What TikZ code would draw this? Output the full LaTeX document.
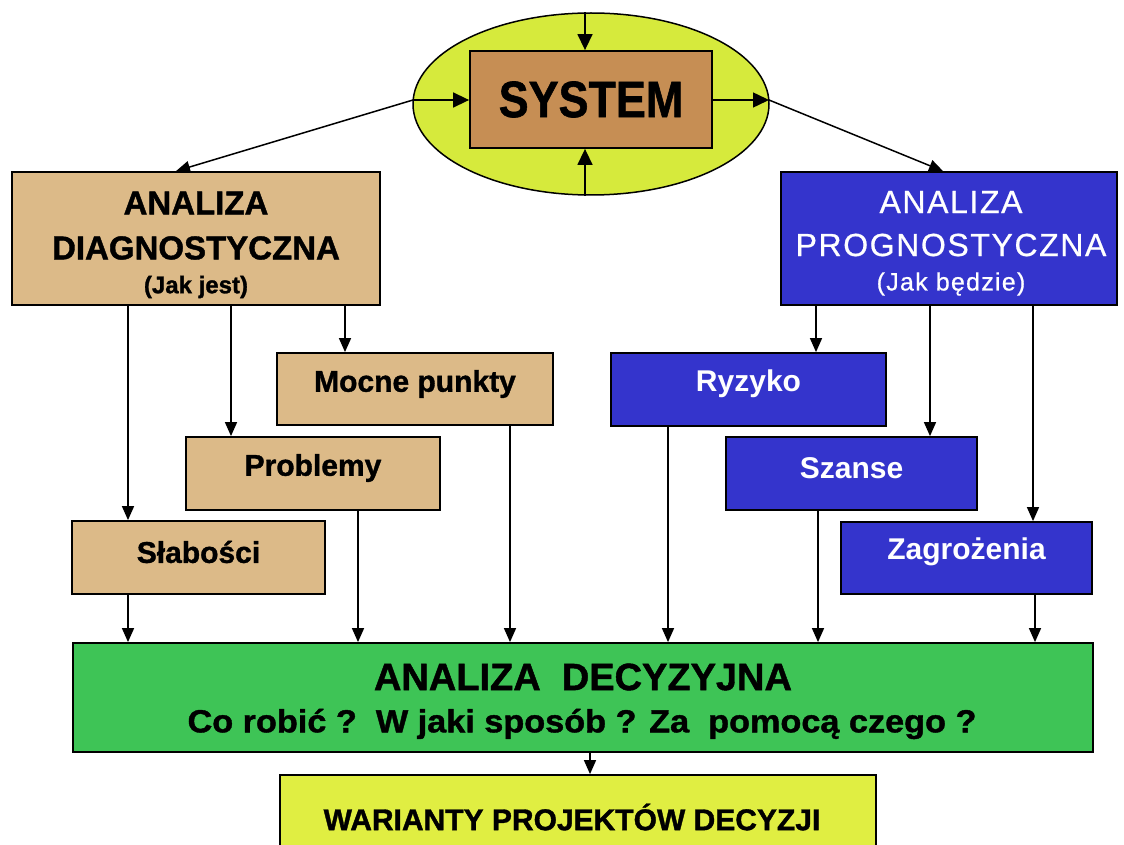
\documentclass[tikz,border=0pt]{standalone}
\usepackage{fontspec}
\usepackage{graphicx}
\setmainfont{Liberation Sans}
\newfontfamily\heavyfont{Liberation Sans Bold}[FakeBold=1.2]
\newfontfamily\spacedfont{Liberation Sans}[LetterSpace=5,FakeBold=0.6]
\usetikzlibrary{arrows.meta,shapes.geometric}
\definecolor{ellfill}{RGB}{214,234,60}
\definecolor{sysbrown}{RGB}{198,142,84}
\definecolor{tanfill}{RGB}{220,186,136}
\definecolor{bluefill}{RGB}{52,52,204}
\definecolor{greenfill}{RGB}{62,196,86}
\definecolor{yellowfill}{RGB}{224,238,66}
\begin{document}
\begin{tikzpicture}[x=1pt,y=-1pt,
  box/.style={draw=black, line width=1.8pt, rectangle, inner sep=0pt},
  tanbox/.style={box, fill=tanfill},
  bluebox/.style={box, fill=bluefill},
  arr/.style={line width=1.5pt, -{Triangle[width=12pt,length=14pt]}},
  bigarr/.style={line width=1.5pt, -{Triangle[width=15pt,length=16pt]}},
  lbl/.style={inner sep=0pt, font=\heavyfont\fontsize{30}{30}\selectfont},
  wlbl/.style={inner sep=0pt, text=white, font=\bfseries\fontsize{30}{30}\selectfont}]
\clip (0,0) rectangle (1124,845);
\fill[white] (0,0) rectangle (1124,845);

% system block
\node[ellipse, draw=black, line width=1.5pt, fill=ellfill, inner sep=0pt,
      minimum width=356, minimum height=182] (ell) at (591,104) {};
\node[box, fill=sysbrown, minimum width=242, minimum height=97] (sys) at (591,99.5)
  {\scalebox{0.88}[1]{\heavyfont\fontsize{51}{51}\selectfont SYSTEM}};

% analysis boxes
\node[tanbox, minimum width=368, minimum height=133] (diag) at (196,238.5) {};
\node[lbl, font=\heavyfont\fontsize{33}{33}\selectfont] (diagA) at (196,203) {ANALIZA};
\node[lbl, font=\heavyfont\fontsize{33}{33}\selectfont] (diagB) at (196,248) {DIAGNOSTYCZNA};
\node[lbl, font=\heavyfont\fontsize{24}{24}\selectfont] (diagC) at (196,287) {(Jak jest)};

\node[bluebox, minimum width=336, minimum height=133] (prog) at (949,238.5) {};
\node[inner sep=0pt, text=white, font=\spacedfont\fontsize{32}{32}\selectfont] (progA) at (951,202) {ANALIZA};
\node[inner sep=0pt, text=white, font=\spacedfont\fontsize{32}{32}\selectfont] (progB) at (951,245) {PROGNOSTYCZNA};
\node[inner sep=0pt, text=white, font=\spacedfont\fontsize{25}{25}\selectfont] (progC) at (951,284) {(Jak będzie)};

% diagnostic components
\node[tanbox, minimum width=276, minimum height=72] (mocne) at (415,389) {};
\node[lbl] (mocneT) at (415,384) {Mocne punkty};
\node[tanbox, minimum width=254, minimum height=73] (probl) at (313,473.5) {};
\node[lbl] (problT) at (313,468) {Problemy};
\node[tanbox, minimum width=253, minimum height=73] (slab) at (198.5,557.5) {};
\node[lbl] (slabT) at (198.5,552) {Słabości};

% prognostic components
\node[bluebox, minimum width=275, minimum height=73] (ryz) at (748.5,389.5) {};
\node[wlbl] (ryzT) at (748.5,384) {Ryzyko};
\node[bluebox, minimum width=251, minimum height=73] (szan) at (851.5,473.5) {};
\node[wlbl] (szanT) at (851.5,468) {Szanse};
\node[bluebox, minimum width=251, minimum height=72] (zagr) at (966.5,558) {};
\node[wlbl] (zagrT) at (966.5,552) {Zagrożenia};

% decision analysis
\node[box, fill=greenfill, minimum width=1020, minimum height=109] (dec) at (583,697.5) {};
\node[lbl, font=\heavyfont\fontsize{38}{38}\selectfont] (decA) at (583,677) {ANALIZA\ \ DECYZYJNA};
\node[lbl, font=\heavyfont\fontsize{32}{32}\selectfont] (decB) at (582,724)
  {\scalebox{1.07}[1]{Co robić ?\ \ W jaki sposób ? Za\ \ pomocą czego ?}};

\node[box, fill=yellowfill, minimum width=596, minimum height=95] (war) at (578,822.5) {};
\node[lbl] (warT) at (572,817) {WARIANTY PROJEKTÓW DECYZJI};

% connector positions
\coordinate (xs) at (585,0);
\coordinate (inL) at (413,100);
\coordinate (outR) at (769,100);
\coordinate (tD) at (176,0);
\coordinate (tP) at (943,0);
\coordinate (ca1) at (128,0);
\coordinate (ca2) at (231,0);
\coordinate (ca3) at (345,0);
\coordinate (cp1) at (816,0);
\coordinate (cp2) at (930,0);
\coordinate (cp3) at (1033,0);
\coordinate (cd1) at (128,0);
\coordinate (cd2) at (358,0);
\coordinate (cd3) at (510,0);
\coordinate (cd4) at (668,0);
\coordinate (cd5) at (818,0);
\coordinate (cd6) at (1035,0);
\coordinate (cw) at (590,0);

% system inputs and outputs
\draw[bigarr] (ell.north -| xs) -- (sys.north -| xs);
\draw[bigarr] (ell.south -| xs) -- (sys.south -| xs);
\draw[bigarr] (inL) -- (sys.west |- inL);
\draw[bigarr] (sys.east |- outR) -- (outR);
\draw[arr] (inL) -- (diag.north -| tD);
\draw[arr] (outR) -- (prog.north -| tP);

% branches
\draw[arr] (diag.south -| ca1) -- (slab.north -| ca1);
\draw[arr] (diag.south -| ca2) -- (probl.north -| ca2);
\draw[arr] (diag.south -| ca3) -- (mocne.north -| ca3);
\draw[arr] (prog.south -| cp1) -- (ryz.north -| cp1);
\draw[arr] (prog.south -| cp2) -- (szan.north -| cp2);
\draw[arr] (prog.south -| cp3) -- (zagr.north -| cp3);

% into the decision analysis
\draw[arr] (slab.south -| cd1) -- (dec.north -| cd1);
\draw[arr] (probl.south -| cd2) -- (dec.north -| cd2);
\draw[arr] (mocne.south -| cd3) -- (dec.north -| cd3);
\draw[arr] (ryz.south -| cd4) -- (dec.north -| cd4);
\draw[arr] (szan.south -| cd5) -- (dec.north -| cd5);
\draw[arr] (zagr.south -| cd6) -- (dec.north -| cd6);
\draw[arr] (dec.south -| cw) -- (war.north -| cw);
\end{tikzpicture}
\end{document}
